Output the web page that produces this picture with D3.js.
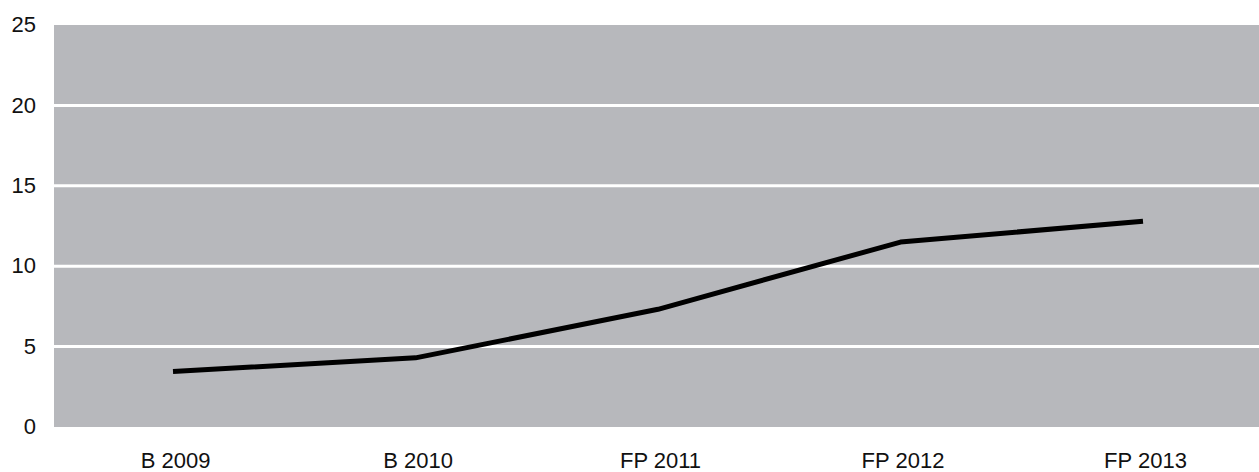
<!DOCTYPE html>
<html>
<head>
<meta charset="utf-8">
<script src="https://cdn.jsdelivr.net/npm/d3@7"></script>
<style>
  html, body { margin: 0; padding: 0; background: #fff; }
  svg { display: block; }
  text { font-family: "Liberation Sans", Arial, Helvetica, sans-serif; fill: #111; }
</style>
</head>
<body>
<svg id="chart" width="1259" height="472"></svg>
<script>
const categories = ["B 2009", "B 2010", "FP 2011", "FP 2012", "FP 2013"];
const values = [3.45, 4.3, 7.32, 11.5, 12.8];
const yTicks = [0, 5, 10, 15, 20, 25];

const W = 1259, H = 472;
const plot = { left: 54, right: 1259, top: 25, bottom: 427 };
const fontSize = 22;

const svg = d3.select("#chart");

const x = d3.scalePoint()
  .domain(categories)
  .range([plot.left + 119, plot.right - 116]);

const y = d3.scaleLinear()
  .domain([0, 25])
  .range([plot.bottom, plot.top]);

// grey plot background
svg.append("rect")
  .attr("x", plot.left)
  .attr("y", plot.top)
  .attr("width", plot.right - plot.left)
  .attr("height", plot.bottom - plot.top)
  .attr("fill", "#b7b8bc");

// white horizontal gridlines (inner ticks only)
svg.append("g")
  .selectAll("line")
  .data(yTicks.filter(t => t > 0 && t < 25))
  .join("line")
  .attr("x1", plot.left)
  .attr("x2", plot.right)
  .attr("y1", d => y(d))
  .attr("y2", d => y(d))
  .attr("stroke", "#ffffff")
  .attr("stroke-width", 3);

// y axis labels
const yAxis = d3.axisLeft(y).tickValues(yTicks).tickSize(0).tickPadding(0);
const gy = svg.append("g")
  .attr("transform", `translate(36,0)`)
  .call(yAxis);
gy.select(".domain").remove();
gy.selectAll("text")
  .attr("font-size", fontSize)
  .attr("dy", "0.3em")
  .style("font-family", '"Liberation Sans", Arial, sans-serif')
  .attr("fill", "#111");

// x axis labels
const xAxis = d3.axisBottom(x).tickSize(0).tickPadding(0);
const gx = svg.append("g")
  .attr("transform", `translate(2,452)`)
  .call(xAxis);
gx.select(".domain").remove();
gx.selectAll("text")
  .attr("font-size", fontSize)
  .attr("dy", "0.71em")
  .style("font-family", '"Liberation Sans", Arial, sans-serif')
  .attr("fill", "#111");

// data line
const line = d3.line()
  .x((d, i) => x(categories[i]))
  .y(d => y(d));

svg.append("path")
  .datum(values)
  .attr("d", line)
  .attr("fill", "none")
  .attr("stroke", "#000")
  .attr("stroke-width", 5)
  .attr("stroke-linejoin", "round");
</script>
</body>
</html>
